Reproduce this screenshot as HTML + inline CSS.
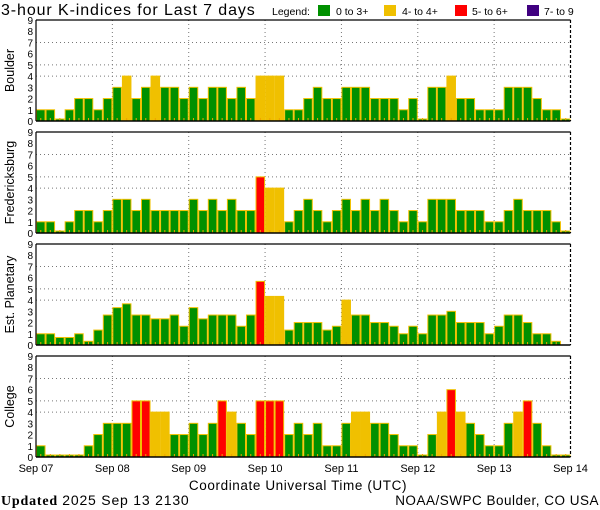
<!DOCTYPE html>
<html><head><meta charset="utf-8"><style>
body{margin:0;background:#fff;width:600px;height:510px;overflow:hidden}
svg{display:block;font-family:"Liberation Sans",sans-serif}
</style></head><body>
<svg id="chart" width="600" height="510" viewBox="0 0 600 510">
<text x="1" y="15" font-size="16" letter-spacing="0.9">3-hour K-indices for Last 7 days</text>
<g font-size="10.5">
<text x="272" y="15">Legend:</text>
<rect x="318" y="5" width="12" height="11" fill="#009000"/>
<text x="336" y="15">0 to 3+</text>
<rect x="384" y="5" width="12" height="11" fill="#f0c000"/>
<text x="402" y="15">4- to 4+</text>
<rect x="455" y="5" width="12" height="11" fill="#ff0000"/>
<text x="472" y="15">5- to 6+</text>
<rect x="527" y="5" width="12" height="11" fill="#400080"/>
<text x="544" y="15">7- to 9</text>
</g>
<g id="panels"></g>
<text x="298" y="490" font-size="13.5" letter-spacing="0.6" text-anchor="middle">Coordinate Universal Time (UTC)</text>
<text x="1" y="505" font-size="14" letter-spacing="0.8" font-family="Liberation Serif, serif"><tspan font-weight="bold">Updated</tspan> <tspan font-family="Liberation Sans, sans-serif">2025 Sep 13 2130</tspan></text>
<text x="599" y="505" font-size="13.5" letter-spacing="0.5" text-anchor="end">NOAA/SWPC Boulder, CO USA</text>
</svg>
<script>
const dayLabels = ["Sep 07","Sep 08","Sep 09","Sep 10","Sep 11","Sep 12","Sep 13","Sep 14"];
const stationNames = ["Boulder","Fredericksburg","Est. Planetary","College"];
const boulderK = [1,1,0,1,2,2,1,2, 3,4,2,3,4,3,3,2, 3,2,3,3,2,3,2,4, 4,4,1,1,2,3,2,2, 3,3,3,2,2,2,1,2, 0,3,3,4,2,2,1,1, 1,3,3,3,2,1,1,0];
const fredericksburgK = [1,1,0,1,2,2,1,2, 3,3,2,3,2,2,2,2, 3,2,3,2,3,2,2,5, 4,4,1,2,3,2,1,2, 3,2,3,2,3,2,1,2, 1,3,3,3,2,2,2,1, 1,2,3,2,2,2,1,0];
const planetaryK = [1,1,0.67,0.67,1,0.33,1.33,2.67, 3.33,3.67,2.67,2.67,2.33,2.33,2.67,1.67, 3.33,2.33,2.67,2.67,2.67,1.67,2.67,5.67, 4.33,4.33,1.33,2,2,2,1.33,1.67, 4,2.67,2.67,2,2,1.67,1,1.67, 1,2.67,2.67,3,2,2,2,1, 1.67,2.67,2.67,2,1,1,0.33,null];
const collegeK = [1,0,0,0,0,1,2,3, 3,3,5,5,4,4,2,2, 3,2,3,5,4,3,2,5, 5,5,2,3,2,3,1,1, 3,4,4,3,3,2,1,1, 0,2,4,6,4,3,2,1, 1,3,4,5,3,1,0,0];
const yTicks = [0,1,2,3,4,5,6,7,8,9];
const gridLevels = [4,5,7];

const seriesList = [boulderK, fredericksburgK, planetaryK, collegeK];
const NS = "http://www.w3.org/2000/svg";
const X0 = 36, X1 = 570.5, PH = 101, tops = [20,132,244,356];
const nBars = 56;
const xScale = i => X0 + (X1 - X0) * i / nBars;
const dayX = d => X0 + (X1 - X0) * d / 7;
function colorFor(v){ return v < 4 ? "#009000" : v < 5 ? "#f0c000" : v < 7 ? "#ff0000" : "#400080"; }
function mk(tag, attrs, parent){ const e = document.createElementNS(NS, tag); for (const k in attrs) e.setAttribute(k, attrs[k]); parent.appendChild(e); return e; }
const root = document.getElementById("panels");

seriesList.forEach((vals, p) => {
  const top = tops[p], bot = top + PH;
  const yScale = v => bot - v * PH / 9;
  const g = mk("g", {}, root);
  
  
  gridLevels.forEach(l => {
    const ln = mk("line", {x1:X0, x2:X1, y1:yScale(l), y2:yScale(l), stroke:"#777", "stroke-dasharray":"1,3"}, g);
    
    
  });
  for (let d = 1; d < 7; d++) {
    const ln = mk("line", {x1:dayX(d), x2:dayX(d), y1:top, y2:bot, stroke:"#777", "stroke-dasharray":"1,3"}, g);
    
    
  }
  vals.forEach((v, i) => {
    if (v === null) return;
    const x = xScale(i), w = (X1 - X0) / nBars;
    const h = Math.max(v * PH / 9, 2);
    const r = mk("rect", {x:x+0.5, y:bot-h, width:w-1, height:h, fill: colorFor(v), stroke:"#f0c000", "stroke-width":1}, g);
    
    
    const t = mk("rect", {x:x+w/2-0.5, y:bot-3, width:1, height:3, fill:"#f0a000"}, g);
    
    
  });
  const f1 = mk("line", {x1:X0, x2:X1, y1:top, y2:top, stroke:"#000", "stroke-width":1.2}, g);
  
  
  const f2 = mk("line", {x1:X0, x2:X0, y1:top, y2:bot, stroke:"#000", "stroke-width":1.2}, g);
  
  
  const f3 = mk("line", {x1:X1, x2:X1, y1:top, y2:bot, stroke:"#000", "stroke-width":1.2, "stroke-dasharray":"3,2"}, g);
  
  
  const f4 = mk("line", {x1:X0, x2:X1, y1:bot, y2:bot, stroke:"#000", "stroke-width":1.5}, g);
  
  
  yTicks.forEach(t => {
    const tx = mk("text", {x:33, y:yScale(t)+4, "font-size":10, "text-anchor":"end"}, g);
    tx.textContent = t;
    
    
  });
  const yl = mk("text", {x:0, y:0, "font-size":12.5, "text-anchor":"middle", transform:`translate(14,${top+PH/2}) rotate(-90)`}, g);
  yl.textContent = stationNames[p];
  
  
});
dayLabels.forEach((lab, d) => {
  const t = mk("text", {x:dayX(d), y:472, "font-size":11, "text-anchor":"middle"}, root);
  t.textContent = lab;
  
  
});
</script>
</body></html>
